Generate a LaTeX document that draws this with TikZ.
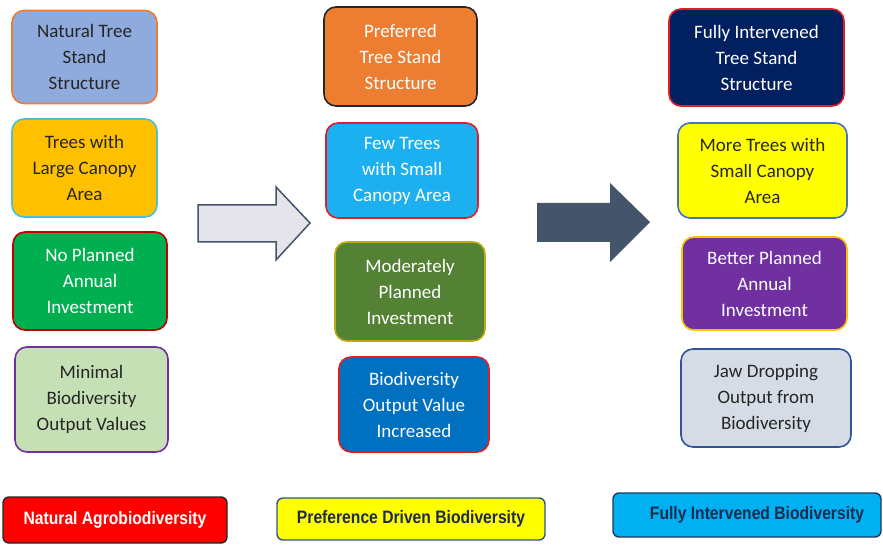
\documentclass[tikz,border=0pt]{standalone}
\usepackage{fontspec}
\setmainfont{Carlito}
\newfontfamily\legendfont{Liberation Sans}
\usepackage{xcolor}
\usepackage{tikz}
\usetikzlibrary{positioning}

\definecolor{slate}{HTML}{44546A}
\definecolor{ink}{HTML}{262626}
\definecolor{navytext}{HTML}{1F2A50}

\begin{document}
\begin{tikzpicture}[
      x=1pt, y=-1pt,
      box/.style={draw, line width=1.6pt, rounded corners=12pt, align=center,
        inner sep=0pt, font=\fontsize{19}{26}\selectfont},
      legend/.style={draw, line width=1.4pt, rounded corners=6pt, inner sep=0pt,
        font=\legendfont\bfseries\fontsize{18}{20}\selectfont},
      blockarrow/.style={line width=1.5pt, draw=slate, line join=miter}
    ]
      \useasboundingbox (0,0) rectangle (883,545);

      % natural stand
      \node[box, fill={rgb,255:red,143;green,170;blue,220}, draw={rgb,255:red,237;green,125;blue,49},
        text=ink, minimum width=145pt, minimum height=93pt] (nat1) at (84.5,57) {Natural Tree\\Stand\\Structure};
      \node[box, fill={rgb,255:red,255;green,192;blue,0}, draw={rgb,255:red,75;green,190;blue,220},
        text=ink, minimum width=145pt, minimum height=98pt] (nat2) at (84.5,168) {Trees with\\Large Canopy\\Area};
      \node[box, fill={rgb,255:red,0;green,176;blue,80}, draw={rgb,255:red,192;green,0;blue,0},
        text=white, minimum width=154pt, minimum height=98pt] (nat3) at (90,281) {No Planned\\Annual\\Investment};
      \node[box, fill={rgb,255:red,197;green,224;blue,180}, draw={rgb,255:red,112;green,48;blue,160},
        text=ink, minimum width=153pt, minimum height=105pt] (nat4) at (91.5,399.5) {Minimal\\Biodiversity\\Output Values};

      % preferred stand
      \node[box, fill={rgb,255:red,237;green,125;blue,49}, draw=black!85,
        text=white, minimum width=153pt, minimum height=99pt] (pref1) at (400.5,56.5) {Preferred\\Tree Stand\\Structure};
      \node[box, fill={rgb,255:red,28;green,176;blue,240}, draw={rgb,255:red,225;green,30;blue,40},
        text=white, minimum width=152pt, minimum height=95pt] (pref2) at (402,170.5) {Few Trees\\with Small\\Canopy Area};
      \node[box, fill={rgb,255:red,84;green,130;blue,53}, draw={rgb,255:red,190;green,170;blue,20},
        text=white, minimum width=150pt, minimum height=99pt] (pref3) at (410,291.5) {Moderately\\Planned\\Investment};
      \node[box, fill={rgb,255:red,0;green,112;blue,192}, draw={rgb,255:red,225;green,30;blue,40},
        text=white, minimum width=150pt, minimum height=95pt] (pref4) at (414,404.5) {Biodiversity\\Output Value\\Increased};

      % fully intervened stand
      \node[box, fill={rgb,255:red,0;green,32;blue,96}, draw={rgb,255:red,225;green,30;blue,40},
        text=white, minimum width=175pt, minimum height=97pt] (full1) at (756.5,57.5) {Fully Intervened\\Tree Stand\\Structure};
      \node[box, fill={rgb,255:red,255;green,255;blue,0}, draw={rgb,255:red,68;green,114;blue,196},
        text=ink, minimum width=169pt, minimum height=95pt] (full2) at (762.5,170.5) {More Trees with\\Small Canopy\\Area};
      \node[box, fill={rgb,255:red,112;green,48;blue,160}, draw={rgb,255:red,255;green,192;blue,0},
        text=white, minimum width=165pt, minimum height=93pt] (full3) at (764.5,283.5) {Better Planned\\Annual\\Investment};
      \node[box, fill={rgb,255:red,214;green,220;blue,229}, draw={rgb,255:red,47;green,85;blue,151},
        text=ink, minimum width=170pt, minimum height=98pt] (full4) at (766,398) {Jaw Dropping\\Output from\\Biodiversity};

      % block arrows between the stands
      \draw[blockarrow, fill={rgb,255:red,228;green,228;blue,234}]
        (198,205) -- (276,205) -- (276,187) -- (310,223) -- (276,260) -- (276,242) -- (198,242) -- cycle;
      \fill[slate]
        (537,203) -- (610,203) -- (610,183) -- (650,222) -- (610,262) -- (610,242) -- (537,242) -- cycle;

      % legend
      \node[legend, fill={rgb,255:red,255;green,0;blue,0}, draw=black!85, text=white,
        minimum width=224pt, minimum height=46pt] (natkey) at (115,520) {\scalebox{0.87}[1]{Natural Agrobiodiversity}};
      \node[legend, fill={rgb,255:red,255;green,255;blue,0}, draw={rgb,255:red,47;green,85;blue,151}, text=navytext,
        minimum width=268pt, minimum height=42pt] (prefkey) at (411,519) {\scalebox{0.87}[1]{Preference Driven Biodiversity}};
      \node[legend, fill={rgb,255:red,0;green,176;blue,240}, draw={rgb,255:red,31;green,56;blue,100}, text=navytext,
        minimum width=268pt, minimum height=44pt] (fullkey) at (747,515) {\hspace{20pt}\scalebox{0.87}[1]{Fully Intervened Biodiversity}};
    \end{tikzpicture}
\end{document}
